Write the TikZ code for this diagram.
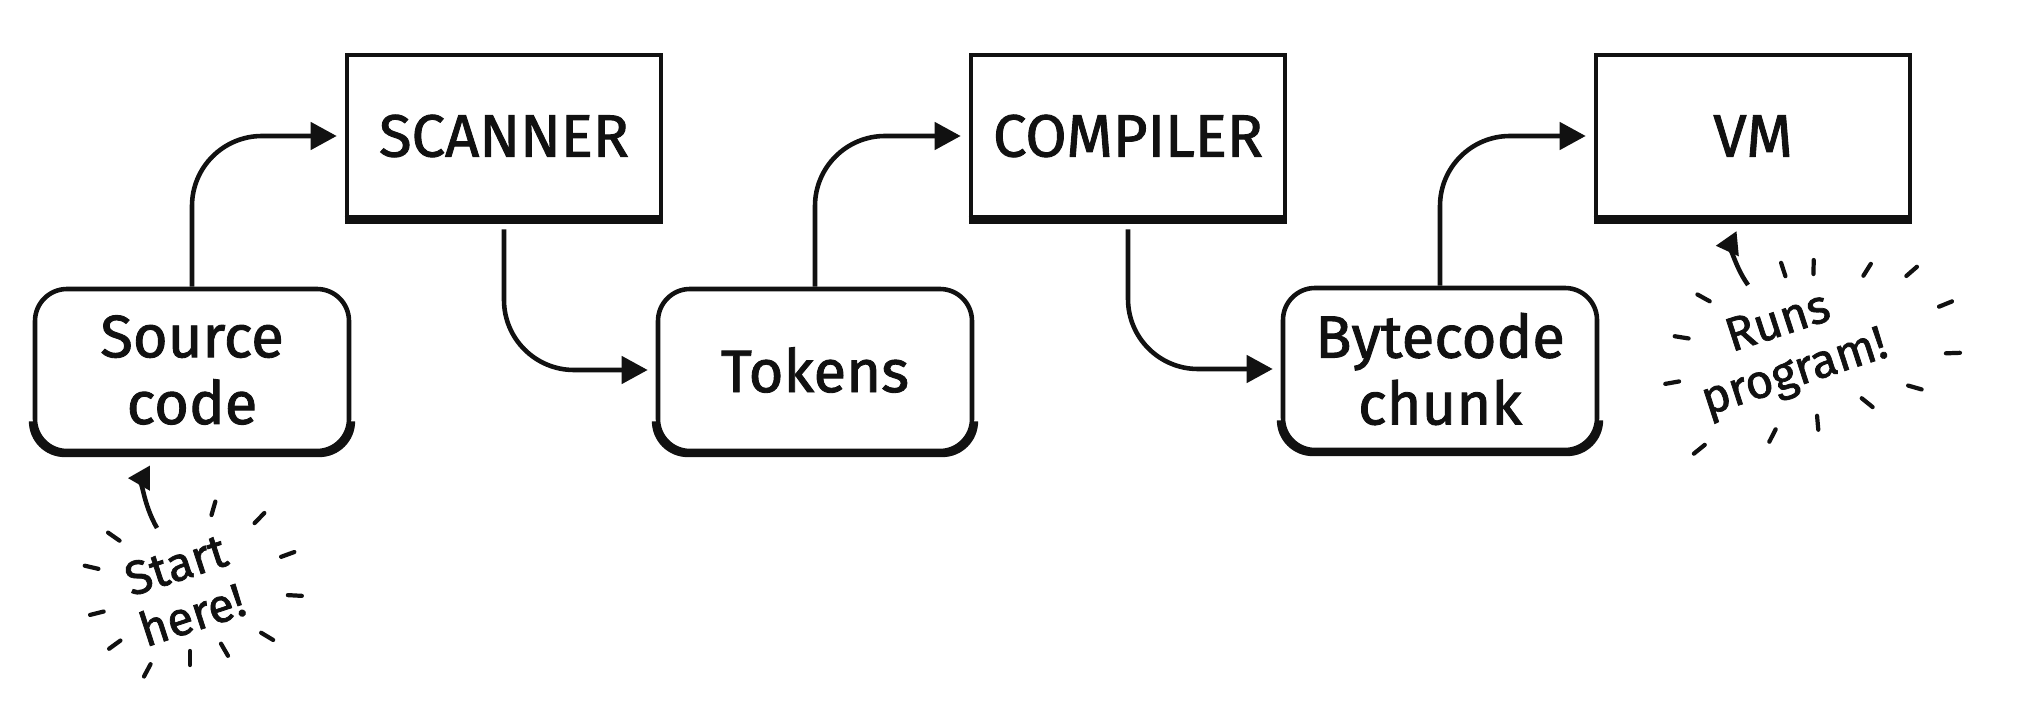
\documentclass[tikz,border=0pt]{standalone}
\usepackage{fontspec}
\setmainfont{Fira Sans}[FakeBold=1.5]
\usepackage{xcolor}
\usepackage{tikz}
\usetikzlibrary{arrows.meta, calc}
\definecolor{Ink}{HTML}{111111}
\tikzset{
  stage/.style={draw=Ink, line width=1.3pt, minimum width=3.14cm, minimum height=1.62cm, text=Ink, font=\fontsize{17}{19}\selectfont, align=center},
  data/.style={stage, rounded corners=3.2mm},
  flow/.style={-{Triangle[length=2.6mm, width=2.7mm]}, line width=1.3pt, color=Ink, rounded corners=7mm, shorten >=0.8mm},
  pointer/.style={-{Triangle[length=2.2mm, width=2.4mm]}, line width=1.3pt, color=Ink},
  ground/.style={line width=2.2pt, color=Ink},
  note/.style={color=Ink, font=\fontsize{13.5}{15}\selectfont, align=center, rotate=18},
  spark/.style={line width=1.2pt, color=Ink, line cap=round},
}

\begin{document}
\begin{tikzpicture}
  \useasboundingbox (0,0) rectangle (20.26,7.04);

  % Stages
  \node[stage] (scanner) at (5.04,5.68) {SCANNER};
  \node[stage] (compiler) at (11.28,5.68) {COMPILER};
  \node[stage] (vm) at (17.53,5.68) {VM};

  % Data between the stages
  \node[data] (src) at (1.92,3.34) {Source\\code};
  \node[data] (tokens) at (8.15,3.34) {Tokens};
  \node[data] (chunk) at (14.40,3.35) {Bytecode\\chunk};

  % Heavier bottom edges
  \foreach \n in {scanner,compiler,vm}
    \draw[ground] ([yshift=-0.3pt]\n.south west) -- ([yshift=-0.3pt]\n.south east);
  \foreach \n in {src,tokens,chunk}
    \draw[ground, rounded corners=3.2mm] ([yshift=3.2mm]\n.south west) -- (\n.south west) -- (\n.south east) -- ([yshift=3.2mm]\n.south east);

  % Flow
  \draw[flow] (src.north) |- (scanner.west);
  \draw[flow, shorten <=1mm] (scanner.south) |- (tokens.west);
  \draw[flow] (tokens.north) |- (compiler.west);
  \draw[flow, shorten <=1mm] (compiler.south) |- (chunk.west);
  \draw[flow] (chunk.north) |- (vm.west);

  % Notes
  \node[note] (start) at (1.84,1.14) {Start\\here!};
  \coordinate (starttail) at (1.57,1.76);
  \coordinate (startburst) at (1.90,1.14);
  \draw[pointer, shorten >=1.4mm] (starttail) to[bend left=30] ([xshift=-3.5mm]src.south);
  \foreach \a/\r in {145/0.86, 74/0.78, 46/0.93, 167/0.94, 20/0.97, 194/0.89, 357/0.98, 216/0.86, 329/0.83, 242/0.84, 270/0.61, 300/0.62}
    \draw[spark] ([shift={(\a:\r)}]startburst) -- ++(\a:0.14);

  \node[note] (runs) at (17.87,3.54) {Runs\\program!};
  \coordinate (runstail) at (17.48,4.19);
  \coordinate (runsburst) at (18.12,3.46);
  \draw[pointer, shorten >=1.3mm] (runstail) to[bend left=30] ([xshift=-1.1mm]vm.south);
  \foreach \a/\r in {151/1.17, 108/0.86, 89/0.84, 58/0.97, 41/1.25, 171/1.25, 22/1.37, 190/1.35, 2/1.34, 344/1.00, 321/0.64, 275/0.58, 243/0.80, 219/1.38}
    \draw[spark] ([shift={(\a:\r)}]runsburst) -- ++(\a:0.14);
\end{tikzpicture}
\end{document}
